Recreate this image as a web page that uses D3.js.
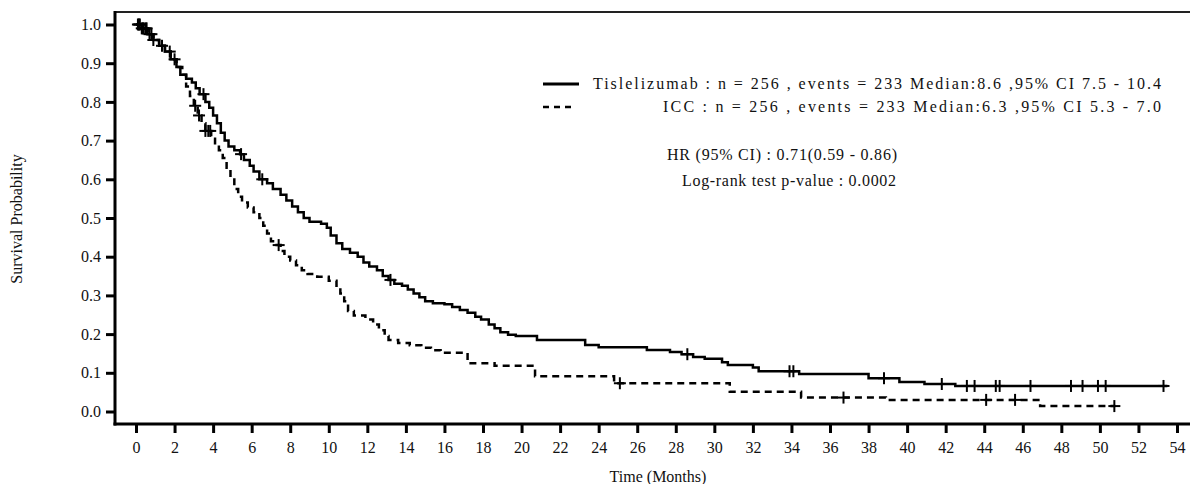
<!DOCTYPE html>
<html>
<head>
<meta charset="utf-8">
<script src="https://cdn.jsdelivr.net/npm/d3@7"></script>
<style>
  html, body { margin: 0; padding: 0; background: #fff; }
  svg { display: block; }
  svg text { font-family: "Liberation Serif", "Times New Roman", serif !important; }
</style>
</head>
<body>
<svg id="chart" width="1190" height="484"></svg>
<script>
// ---- Data ----
const xTicks = d3.range(0, 55, 2);
const yTicks = [0, 0.1, 0.2, 0.3, 0.4, 0.5, 0.6, 0.7, 0.8, 0.9, 1.0];

const tisTime = [0, 0.3, 0.6, 0.9, 1.2, 1.5, 1.8, 2.1, 2.3, 2.6, 2.9, 3.1, 3.3, 3.6, 3.8, 4.0, 4.2, 4.4, 4.6, 4.8,
  5.1, 5.4, 5.6, 5.9, 6.1, 6.4, 6.8, 7.1, 7.5, 7.8, 8.1, 8.4, 8.7, 9.0, 9.6, 9.9, 10.1, 10.4, 10.7, 11.1,
  11.5, 11.8, 12.1, 12.5, 12.8, 13.1, 13.4, 13.8, 14.1, 14.4, 14.7, 15.0, 15.4, 16.0, 16.4, 16.8, 17.2, 17.6, 17.9, 18.3,
  18.6, 18.9, 19.3, 19.7, 20.8, 23.3, 24.0, 26.5, 27.7, 28.3, 28.9, 29.5, 30.4, 30.7, 32.0, 32.3, 34.4, 38.0, 39.6, 40.9,
  42.5, 53.5];
const tisSurv = [1.0, 0.99, 0.975, 0.96, 0.945, 0.93, 0.91, 0.89, 0.87, 0.86, 0.85, 0.835, 0.82, 0.80, 0.785, 0.765, 0.745, 0.72, 0.70, 0.685,
  0.675, 0.665, 0.65, 0.635, 0.62, 0.60, 0.59, 0.575, 0.56, 0.545, 0.53, 0.515, 0.50, 0.49, 0.485, 0.475, 0.455, 0.435, 0.42, 0.41,
  0.40, 0.385, 0.375, 0.365, 0.35, 0.34, 0.33, 0.325, 0.315, 0.305, 0.295, 0.285, 0.28, 0.277, 0.27, 0.262, 0.255, 0.245, 0.238, 0.225,
  0.215, 0.205, 0.198, 0.195, 0.185, 0.172, 0.166, 0.159, 0.154, 0.148, 0.141, 0.136, 0.127, 0.12, 0.114, 0.104, 0.097, 0.086, 0.076, 0.071,
  0.066, 0.066];
const tisCensor = [0.1, 0.2, 0.3, 0.4, 0.5, 0.7, 0.9, 1.35, 1.75, 2.0, 3.5, 5.45, 6.55, 13.2, 28.6, 33.9, 34.1, 38.8, 41.8,
  43.1, 43.5, 44.6, 44.8, 46.4, 48.5, 49.1, 49.9, 50.3, 53.3];

const iccTime = [0, 0.3, 0.6, 0.9, 1.2, 1.5, 1.8, 2.1, 2.4, 2.6, 2.8, 3.0, 3.2, 3.4, 3.6, 3.9, 4.1, 4.3, 4.5, 4.7,
  4.9, 5.1, 5.3, 5.5, 5.8, 6.1, 6.4, 6.6, 6.8, 7.0, 7.2, 7.5, 7.7, 8.0, 8.3, 8.6, 8.9, 9.4, 10.0, 10.4,
  10.6, 10.8, 11.0, 11.3, 11.9, 12.3, 12.6, 12.9, 13.1, 13.6, 14.2, 14.8, 15.3, 15.8, 17.2, 18.6, 20.7, 24.8, 30.8, 34.5,
  38.9, 46.9, 50.8];
const iccSurv = [1.0, 0.99, 0.975, 0.96, 0.945, 0.93, 0.91, 0.89, 0.87, 0.84, 0.815, 0.79, 0.765, 0.745, 0.725, 0.705, 0.69, 0.675, 0.655, 0.63,
  0.605, 0.575, 0.555, 0.54, 0.527, 0.515, 0.50, 0.48, 0.46, 0.44, 0.43, 0.415, 0.40, 0.39, 0.378, 0.365, 0.355, 0.348, 0.338, 0.325,
  0.305, 0.285, 0.26, 0.248, 0.238, 0.225, 0.21, 0.195, 0.185, 0.177, 0.171, 0.165, 0.158, 0.152, 0.125, 0.118, 0.091, 0.073, 0.051, 0.036,
  0.030, 0.014, 0.014];
const iccCensor = [0.15, 0.35, 0.55, 0.8, 3.07, 3.27, 3.6, 3.75, 3.85, 7.4, 25.1, 36.7, 44.1, 45.6, 50.75];

const legendLabels = [
  "Tislelizumab : n = 256 , events = 233 Median:8.6 ,95% CI 7.5 - 10.4",
  "ICC : n = 256 , events = 233 Median:6.3 ,95% CI 5.3 - 7.0"
];
const statLabels = ["HR (95% CI) : 0.71(0.59 - 0.86)", "Log-rank test p-value : 0.0002"];

// ---- Drawing ----
const svg = d3.select("#chart");
const x = d3.scaleLinear().domain([0, 54]).range([136, 1177]);
const y = d3.scaleLinear().domain([0, 1]).range([411.5, 24.5]);

const axisLeftX = 115, axisBottomY = 424;

// top border
svg.append("line").attr("x1", axisLeftX).attr("x2", 1190).attr("y1", 12).attr("y2", 12)
  .attr("stroke", "#222").attr("stroke-width", 2);

// y axis
const yAxis = svg.append("g").attr("transform", `translate(${axisLeftX},0)`)
  .call(d3.axisLeft(y).tickValues(yTicks).tickFormat(d3.format(".1f")).tickSize(9).tickPadding(5));
yAxis.select(".domain").remove();
yAxis.selectAll(".tick line").attr("stroke", "#000").attr("stroke-width", 3);
yAxis.selectAll(".tick text").attr("font-size", 16).attr("fill", "#111");
svg.append("line").attr("x1", axisLeftX).attr("x2", axisLeftX).attr("y1", 11).attr("y2", axisBottomY + 1.5)
  .attr("stroke", "#000").attr("stroke-width", 3);

// x axis
const xAxis = svg.append("g").attr("transform", `translate(0,${axisBottomY})`)
  .call(d3.axisBottom(x).tickValues(xTicks).tickFormat(d3.format("d")).tickSize(9).tickPadding(9));
xAxis.select(".domain").remove();
xAxis.selectAll(".tick line").attr("stroke", "#000").attr("stroke-width", 3);
xAxis.selectAll(".tick text").attr("font-size", 16).attr("fill", "#111");
svg.append("line").attr("x1", axisLeftX - 1.5).attr("x2", 1190).attr("y1", axisBottomY).attr("y2", axisBottomY)
  .attr("stroke", "#000").attr("stroke-width", 3);

// axis titles
svg.append("text").attr("x", 658).attr("y", 482).attr("text-anchor", "middle")
  .attr("font-size", 16).attr("fill", "#111").text("Time (Months)");
svg.append("text").attr("transform", "translate(22,219) rotate(-90)").attr("text-anchor", "middle")
  .attr("font-size", 16).attr("fill", "#111").text("Survival Probability");

// curves
const line = d3.line().x(d => x(d[0])).y(d => y(d[1])).curve(d3.curveStepAfter);
const tisData = tisTime.map((t, i) => [t, tisSurv[i]]);
const iccData = iccTime.map((t, i) => [t, iccSurv[i]]);

svg.append("path").datum(tisData).attr("d", line).attr("fill", "none")
  .attr("stroke", "#000").attr("stroke-width", 2.5);
svg.append("path").datum(iccData).attr("d", line).attr("fill", "none")
  .attr("stroke", "#000").attr("stroke-width", 2.5).attr("stroke-dasharray", "7,5");

function stepValue(times, surv, t) {
  let v = surv[0];
  for (let i = 0; i < times.length; i++) { if (times[i] <= t) v = surv[i]; }
  return v;
}
function drawCensor(times, surv, cens) {
  const g = svg.append("g");
  cens.forEach(t => {
    const cx = x(t), cy = y(stepValue(times, surv, t));
    g.append("line").attr("x1", cx - 6).attr("x2", cx + 6).attr("y1", cy).attr("y2", cy)
      .attr("stroke", "#000").attr("stroke-width", 2);
    g.append("line").attr("x1", cx).attr("x2", cx).attr("y1", cy - 6).attr("y2", cy + 6)
      .attr("stroke", "#000").attr("stroke-width", 2);
  });
}
drawCensor(tisTime, tisSurv, tisCensor);
drawCensor(iccTime, iccSurv, iccCensor);

// legend
svg.append("line").attr("x1", 543).attr("x2", 579).attr("y1", 84).attr("y2", 84)
  .attr("stroke", "#000").attr("stroke-width", 3);
svg.append("line").attr("x1", 543).attr("x2", 576).attr("y1", 107).attr("y2", 107)
  .attr("stroke", "#000").attr("stroke-width", 2.5).attr("stroke-dasharray", "6,5");

function fitText(label, xStart, xEnd, baseline) {
  svg.append("text").attr("x", xStart).attr("y", baseline).attr("font-size", 16).attr("fill", "#111")
    .attr("textLength", xEnd - xStart).attr("lengthAdjust", "spacing").text(label);
}
fitText(legendLabels[0], 593, 1161, 89);
fitText(legendLabels[1], 663, 1161, 112);
fitText(statLabels[0], 667, 897, 160);
fitText(statLabels[1], 682, 896, 186);
</script>
</body>
</html>
